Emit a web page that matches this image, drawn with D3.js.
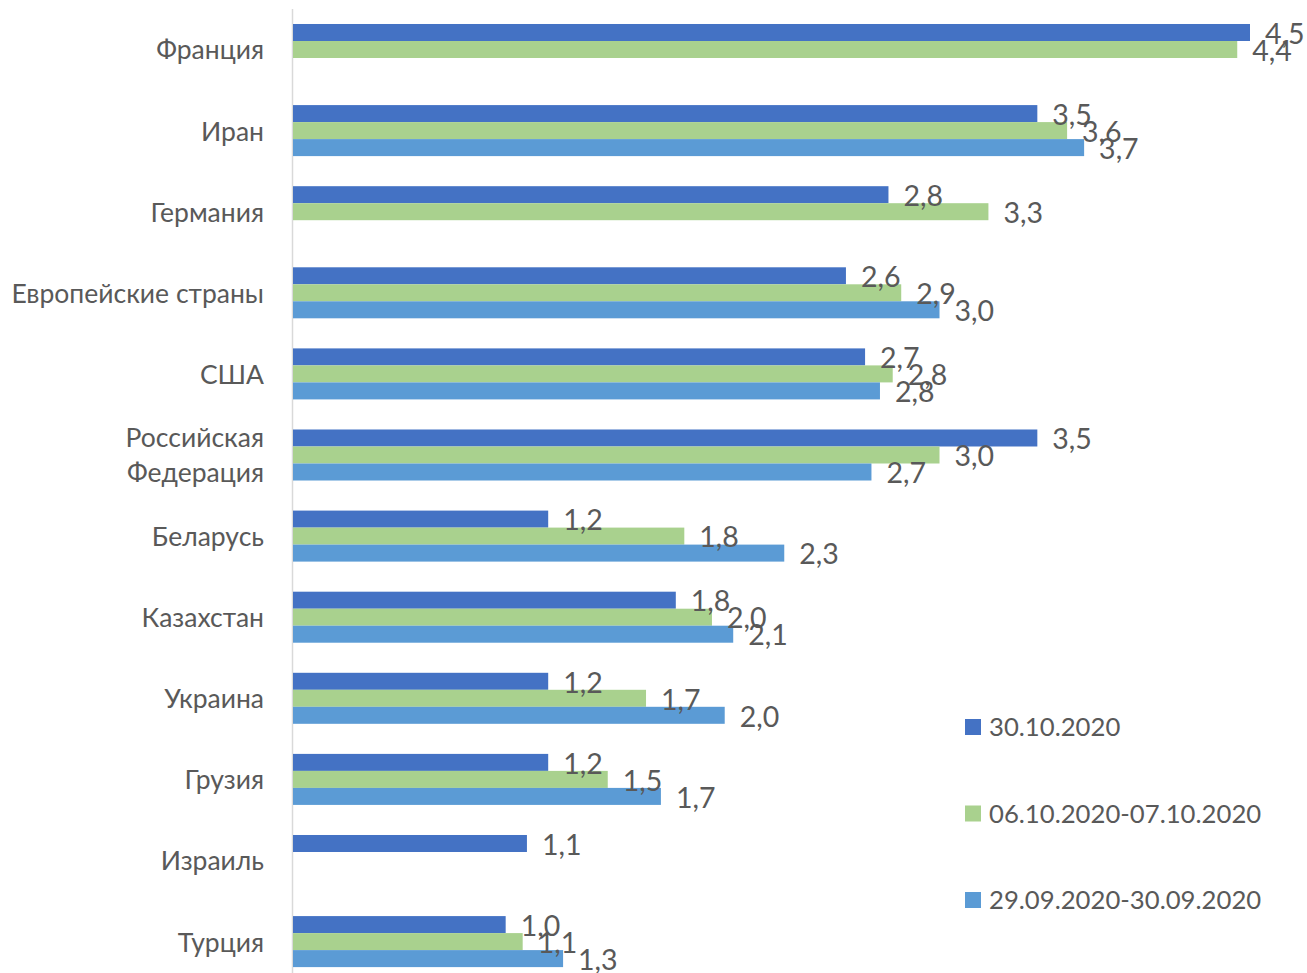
<!DOCTYPE html>
<html><head><meta charset="utf-8">
<script src="https://cdn.jsdelivr.net/npm/d3@7"></script>
<style>body{margin:0;background:#fff}svg{display:block}</style>
</head><body>
<svg id="c" width="1307" height="973"></svg>
<script>
const categories = ["Франция","Иран","Германия","Европейские страны","США","Российская Федерация","Беларусь","Казахстан","Украина","Грузия","Израиль","Турция"];
const series = ["30.10.2020","06.10.2020-07.10.2020","29.09.2020-30.09.2020"];
const s1 = [4.5, 3.5, 2.8, 2.6, 2.69, 3.5, 1.2, 1.8, 1.2, 1.2, 1.1, 1.0];
const s2 = [4.44, 3.64, 3.27, 2.86, 2.82, 3.04, 1.84, 1.97, 1.66, 1.48, null, 1.08];
const s3 = [null, 3.72, null, 3.04, 2.76, 2.72, 2.31, 2.07, 2.03, 1.73, null, 1.27];
const colors = ["#4472C4","#A9D18E","#5B9BD5"];

const svg = d3.select("#c");
const font = "Lato, 'Open Sans', sans-serif";
const txt = "#595959";
const CAP = 0.7165;

const x = d3.scaleLinear().domain([0, 4.5]).range([293, 1250]);
const y = d3.scaleBand().domain(categories).range([8.95, 8.95 + 12*81.1]).paddingInner(0.371).paddingOuter(0.1855);
const ys = d3.scaleBand().domain(series).range([0, y.bandwidth()]);

// axis line
svg.append("line").attr("x1",292.5).attr("x2",292.5).attr("y1",9).attr("y2",973)
  .attr("stroke","#d9d9d9").attr("stroke-width",1.5);

const data = [s1,s2,s3];
series.forEach((s,si)=>{
  const g = svg.append("g");
  categories.forEach((c,ci)=>{
    const v = data[si][ci];
    if (v == null) return;
    const yy = y(c) + ys(s);
    g.append("rect").attr("x", x(0)).attr("y", yy).attr("width", x(v)-x(0)).attr("height", ys.bandwidth()).attr("fill", colors[si]);
  });
});
// value labels
const vfs = 28.5;
series.forEach((s,si)=>{
  categories.forEach((c,ci)=>{
    const v = data[si][ci];
    if (v == null) return;
    const cy = y(c) + ys(s) + ys.bandwidth()/2 + 1;
    svg.append("text").attr("x", x(v)+15).attr("y", cy + CAP*vfs/2)
      .attr("font-family", font).attr("font-size", vfs).attr("fill", txt)
      .text(v.toFixed(1).replace(".", ","));
  });
});

// category labels
const cfs = 26.5;
categories.forEach(c=>{
  const cy = y(c) + y.bandwidth()/2 + 0.5;
  const t = svg.append("text").attr("x", 264).attr("text-anchor","end")
    .attr("font-family", font).attr("font-size", cfs).attr("fill", txt);
  if (c === "Российская Федерация") {
    t.append("tspan").attr("x",264).attr("y", cy-17.5 + CAP*cfs/2).text("Российская");
    t.append("tspan").attr("x",264).attr("y", cy+17.5 + CAP*cfs/2).text("Федерация");
  } else {
    t.attr("y", cy + CAP*cfs/2).text(c);
  }
});

// legend
const lfs = 25.7;
series.forEach((s,i)=>{
  const cy = 727 + i*86.5;
  svg.append("rect").attr("x",965).attr("y",cy-8).attr("width",16).attr("height",16).attr("fill",colors[i]);
  svg.append("text").attr("x",989).attr("y",cy + CAP*lfs/2)
    .attr("font-family", font).attr("font-size", lfs).attr("fill", txt).text(s);
});
</script>
</body></html>
